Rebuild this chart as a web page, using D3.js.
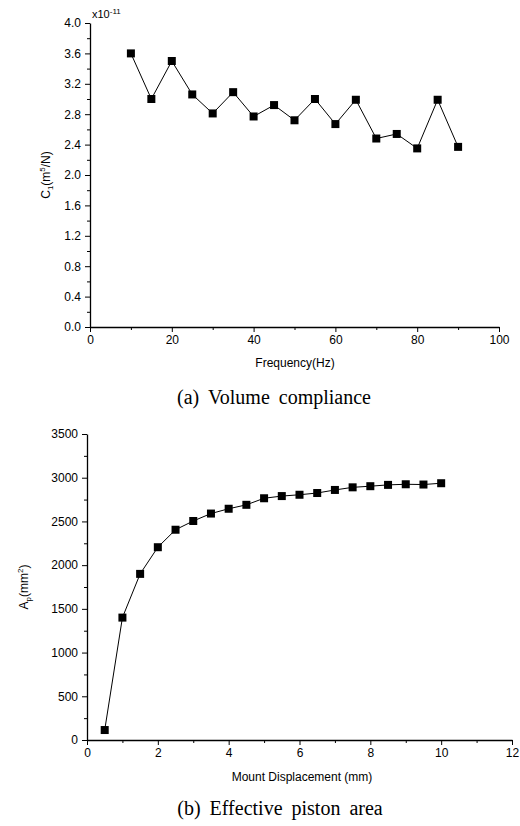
<!DOCTYPE html>
<html>
<head>
<meta charset="utf-8">
<script src="https://cdn.jsdelivr.net/npm/d3@7"></script>
<style>
  body { margin: 0; background: #fff; }
  svg { display: block; }
  .tick text { font-family: "Liberation Sans", Arial, sans-serif; font-size: 12px; fill: #000; }
  .axis path, .axis line { stroke: #000; }
  .lbl { font-family: "Liberation Sans", Arial, sans-serif; font-size: 12px; fill: #000; }
  .cap { font-family: "Liberation Serif", "Times New Roman", serif; font-size: 20px; fill: #000; word-spacing: 4px; }
</style>
</head>
<body>
<svg id="fig" width="520" height="826"></svg>
<script>
// (a) volume compliance vs frequency, values in units of 1e-11 m^5/N
const freqHz = [10, 15, 20, 25, 30, 35, 40, 45, 50, 55, 60, 65, 70, 75, 80, 85, 90];
const compliance = [3.60, 3.00, 3.50, 3.06, 2.81, 3.09, 2.77, 2.92, 2.72, 3.00, 2.67, 2.99, 2.48, 2.54, 2.35, 2.99, 2.37];
const complianceTicks = [0.0, 0.4, 0.8, 1.2, 1.6, 2.0, 2.4, 2.8, 3.2, 3.6, 4.0];
const freqTicks = [0, 20, 40, 60, 80, 100];

// (b) effective piston area vs mount displacement
const dispMm = [0.5, 1, 1.5, 2, 2.5, 3, 3.5, 4, 4.5, 5, 5.5, 6, 6.5, 7, 7.5, 8, 8.5, 9, 9.5, 10];
const pistonArea = [114, 1400, 1900, 2205, 2405, 2505, 2590, 2645, 2690, 2765, 2790, 2805, 2825, 2860, 2890, 2903, 2918, 2925, 2922, 2937];
const areaTicks = [0, 500, 1000, 1500, 2000, 2500, 3000, 3500];
const dispTicks = [0, 2, 4, 6, 8, 10, 12];

const svg = d3.select("#fig");

function panel(opt) {
  const x = d3.scaleLinear().domain(opt.xDomain).range([opt.left, opt.right]);
  const y = d3.scaleLinear().domain(opt.yDomain).range([opt.bottom, opt.top]);
  const g = svg.append("g");

  // minor ticks
  g.append("g").attr("class", "axis")
    .attr("transform", `translate(0,${opt.bottom})`)
    .call(d3.axisBottom(x).tickValues(opt.xMinor).tickSize(3).tickFormat(""))
    .select(".domain").remove();
  g.append("g").attr("class", "axis")
    .attr("transform", `translate(${opt.left},0)`)
    .call(d3.axisLeft(y).tickValues(opt.yMinor).tickSize(3).tickFormat(""))
    .select(".domain").remove();

  // major ticks and labels
  g.append("g").attr("class", "axis")
    .attr("transform", `translate(0,${opt.bottom})`)
    .call(d3.axisBottom(x).tickValues(opt.xTicks).tickSize(5).tickSizeOuter(0).tickPadding(3).tickFormat(d3.format("d")));
  g.append("g").attr("class", "axis")
    .attr("transform", `translate(${opt.left},0)`)
    .call(d3.axisLeft(y).tickValues(opt.yTicks).tickSize(5).tickSizeOuter(0).tickPadding(4).tickFormat(opt.yFormat));
  g.selectAll(".domain").attr("stroke-width", 1.3);

  // series line and square markers
  const pts = opt.xs.map((v, i) => [v, opt.ys[i]]);
  g.append("path")
    .datum(pts)
    .attr("fill", "none")
    .attr("stroke", "#000")
    .attr("stroke-width", 1)
    .attr("d", d3.line().x(d => x(d[0])).y(d => y(d[1])));
  g.selectAll("rect.pt").data(pts).enter().append("rect")
    .attr("class", "pt")
    .attr("x", d => x(d[0]) - 4)
    .attr("y", d => y(d[1]) - 4)
    .attr("width", 8).attr("height", 8)
    .attr("fill", "#000");
  return { x, y, g };
}

// panel (a)
const a = panel({
  left: 90, right: 499, top: 23, bottom: 327,
  xDomain: [0, 100], yDomain: [0, 4.0],
  xTicks: freqTicks, yTicks: complianceTicks,
  xMinor: d3.range(10, 100, 20), yMinor: d3.range(0.2, 4.0, 0.4),
  yFormat: d3.format(".1f"),
  xs: freqHz, ys: compliance
});
const sci = a.g.append("text").attr("class", "lbl").attr("x", 92).attr("y", 18).style("font-size", "11px");
sci.append("tspan").text("x10");
sci.append("tspan").attr("dy", -4).style("font-size", "8px").text("-11");

const yl1 = a.g.append("text").attr("class", "lbl")
  .attr("transform", "translate(50,175) rotate(-90)").attr("text-anchor", "middle");
yl1.append("tspan").text("C");
yl1.append("tspan").attr("dy", 3).style("font-size", "8px").text("1");
yl1.append("tspan").attr("dy", -3).text("(m");
yl1.append("tspan").attr("dy", -5).style("font-size", "8px").text("5");
yl1.append("tspan").attr("dy", 5).text("/N)");

a.g.append("text").attr("class", "lbl").attr("x", 295).attr("y", 367)
  .attr("text-anchor", "middle").text("Frequency(Hz)");
svg.append("text").attr("class", "cap").attr("x", 274).attr("y", 404)
  .attr("text-anchor", "middle").text("(a)  Volume  compliance");

// panel (b)
const b = panel({
  left: 87, right: 512, top: 434, bottom: 740,
  xDomain: [0, 12], yDomain: [0, 3500],
  xTicks: dispTicks, yTicks: areaTicks,
  xMinor: d3.range(1, 12, 2), yMinor: d3.range(250, 3500, 500),
  yFormat: d3.format("d"),
  xs: dispMm, ys: pistonArea
});
const yl2 = b.g.append("text").attr("class", "lbl")
  .attr("transform", "translate(28,587) rotate(-90)").attr("text-anchor", "middle");
yl2.append("tspan").text("A");
yl2.append("tspan").attr("dy", 3).style("font-size", "8px").text("p");
yl2.append("tspan").attr("dy", -3).text("(mm");
yl2.append("tspan").attr("dy", -5).style("font-size", "8px").text("2");
yl2.append("tspan").attr("dy", 5).text(")");

b.g.append("text").attr("class", "lbl").attr("x", 302).attr("y", 781)
  .attr("text-anchor", "middle").text("Mount Displacement (mm)");
svg.append("text").attr("class", "cap").attr("x", 280).attr("y", 815)
  .attr("text-anchor", "middle").text("(b)  Effective  piston  area");
</script>
</body>
</html>
